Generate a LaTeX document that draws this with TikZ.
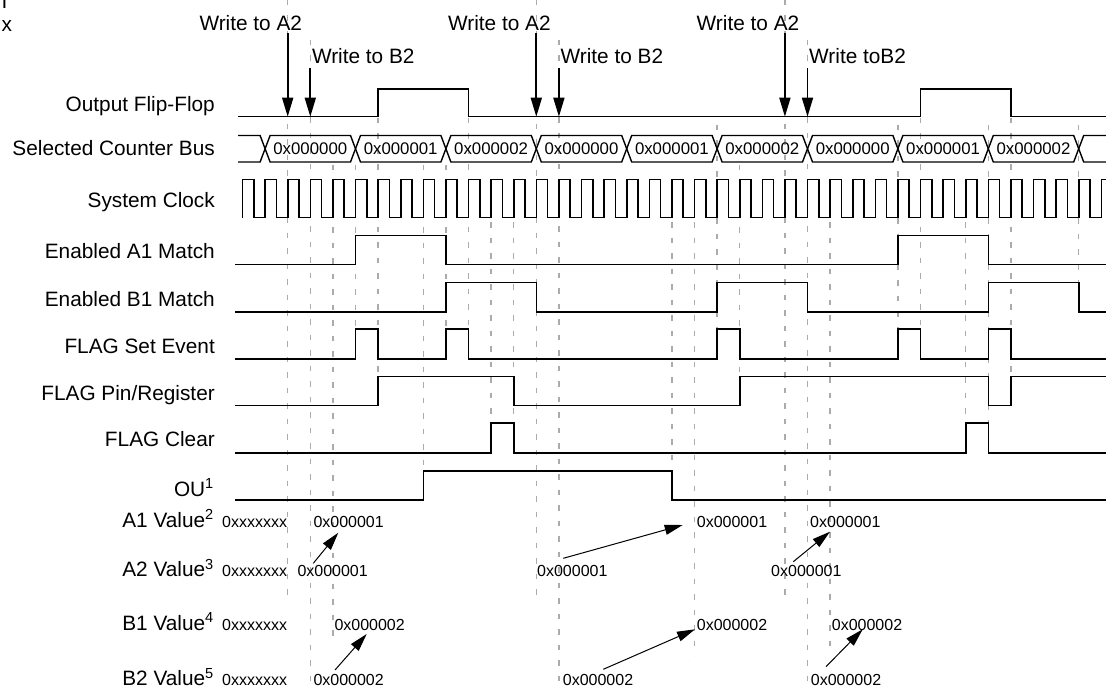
\documentclass[tikz,border=0pt]{standalone}
\usepackage{fontspec}
\setmainfont{Liberation Sans}
\usetikzlibrary{arrows.meta}
\newcommand\kx[1]{242.5+22.6*(#1)}
\begin{document}
\begin{tikzpicture}[x=1pt,y=-1pt,
  sig/.style={line width=1.6pt, line join=miter},
  dline/.style={line width=1.3pt, color=black!33, dash pattern=on 5.5pt off 10pt},
  lbl/.style={anchor=base east, inner sep=0pt, font=\fontsize{20.8}{24}\selectfont},
  wtxt/.style={inner sep=0pt, font=\fontsize{20.8}{24}\selectfont},
  busl/.style={anchor=base, inner sep=0pt, font=\fontsize{16.8}{19}\selectfont},
  val/.style={anchor=base west, inner sep=0pt, font=\fontsize{16}{19}\selectfont},
  warrow/.style={line width=1.7pt, -{Triangle[length=19pt,width=11pt]}},
  varrow/.style={line width=1pt, -{Triangle[length=18pt,width=10pt]}},
]
\useasboundingbox (0,0) rectangle (1106,690);

% dashed guide lines
\foreach \q/\a/\b in {2/0/603, 3/40/690, 4/165/645, 5/165/358, 6/118/406,
  8/165/471, 9/165/358, 10/118/358, 11/222/423, 12/222/453, 13/0/603,
  14/40/690, 19/222/471, 20/222/656, 21/125/358, 22/165/406, 24/0/603,
  25/40/690, 26/222/653, 29/125/358, 30/118/358, 32/222/423, 33/125/453,
  34/118/406, 37/125/312}
  \draw[dline] ({\kx{\q}},\a) -- ({\kx{\q}},\b);

% corner text
\node[anchor=base west, inner sep=0pt, font=\fontsize{20.8}{24}\selectfont] (ci) at (1.5,8.3) {I};
\node[anchor=base west, inner sep=0pt, font=\fontsize{20.8}{24}\selectfont] (cx) at (1.5,31.7) {x};

% labels
\node[lbl] (lff)  at (215,111.7) {Output Flip-Flop};
\node[lbl] (lbus) at (215,155.5) {Selected Counter Bus};
\node[lbl] (lclk) at (215,207.5) {System Clock};
\node[lbl] (la1m) at (215,258.8) {Enabled A1 Match};
\node[lbl] (lb1m) at (215,306.4) {Enabled B1 Match};
\node[lbl] (lfs)  at (215,353.3) {FLAG Set Event};
\node[lbl] (lfp)  at (215,400) {FLAG Pin/Register};
\node[lbl] (lfc)  at (215,446.8) {FLAG Clear};
\node[lbl] (lou)  at (214,496) {OU\textsuperscript{1}};
\node[lbl] (la1v) at (214,527.3) {A1 Value\textsuperscript{2}};
\node[lbl] (la2v) at (214,576.7) {A2 Value\textsuperscript{3}};
\node[lbl] (lb1v) at (214,630.5) {B1 Value\textsuperscript{4}};
\node[lbl] (lb2v) at (214,685.7) {B2 Value\textsuperscript{5}};

% write events
\node[wtxt, anchor=base east] (wa1) at ({\kx{2}+14.5},30.5) {Write to A2};
\node[wtxt, anchor=base west] (wb1) at ({\kx{3}+1.5},63.5) {Write to B2};
\node[wtxt, anchor=base east] (wa2) at ({\kx{13}+14.5},30.5) {Write to A2};
\node[wtxt, anchor=base west] (wb2) at ({\kx{14}+1.5},63.5) {Write to B2};
\node[wtxt, anchor=base east] (wa3) at ({\kx{24}+14.5},30.5) {Write to A2};
\node[wtxt, anchor=base west] (wb3) at ({\kx{25}+1.5},63.5) {Write toB2};
\foreach \n/\q/\t in {wa1/2/33.3, wb1/3/68.3, wa2/13/33.3, wb2/14/68.3, wa3/24/33.3, wb3/25/68.3}{
  \coordinate (\n s) at ({\kx{\q}},\t);
  \coordinate (\n e) at ({\kx{\q}},116.7);
  \draw[warrow] (\n s) -- (\n e);
}

% Output Flip-Flop
\draw[sig] (238,116.7) -| ({\kx{6}},89) -| ({\kx{10}},116.7) -| ({\kx{30}},89) -| ({\kx{34}},116.7) -- (1106,116.7);

% Selected counter bus
\def\bt{135.5}\def\bb{162}\def\bm{148.75}
\draw[sig, line width=1.4pt] (238,\bt) -- ({\kx{1}-5},\bt) -- ({\kx{1}},\bm) -- ({\kx{1}-5},\bb) -- (238,\bb);
\foreach \s/\e in {1/5,5/9,9/13,13/17,17/21,21/25,25/29,29/33,33/37}
  \draw[sig, line width=1.4pt] ({\kx{\s}},\bm) -- ({\kx{\s}+5},\bt) -- ({\kx{\e}-5},\bt) -- ({\kx{\e}},\bm) -- ({\kx{\e}-5},\bb) -- ({\kx{\s}+5},\bb) -- cycle;
\draw[sig, line width=1.4pt] (1106,\bt) -- ({\kx{37}+5},\bt) -- ({\kx{37}},\bm) -- ({\kx{37}+5},\bb) -- (1106,\bb);
\foreach \n/\s/\t in {bus1/1/0x000000, bus2/5/0x000001, bus3/9/0x000002, bus4/13/0x000000,
  bus5/17/0x000001, bus6/21/0x000002, bus7/25/0x000000, bus8/29/0x000001, bus9/33/0x000002}
  \node[busl] (\n) at ({\kx{\s+2}},154.8) {\t};

% System clock
\draw[sig] ({\kx{0}},217.5) \foreach \i in {0,...,38}{ -- ({\kx{\i}},217.5) -- ({\kx{\i}},179.5) -- ({\kx{\i+0.5}},179.5) -- ({\kx{\i+0.5}},217.5)};

% Enabled A1 Match
\draw[sig] (235,264.3) -| ({\kx{5}},235.5) -| ({\kx{9}},264.3) -| ({\kx{29}},235.5) -| ({\kx{33}},264.3) -- (1106,264.3);
% Enabled B1 Match
\draw[sig] (235,311.9) -| ({\kx{9}},282.5) -| ({\kx{13}},311.9) -| ({\kx{21}},282.5) -| ({\kx{25}},311.9) -| ({\kx{33}},282.5) -| ({\kx{37}},311.9) -- (1106,311.9);
% FLAG Set Event
\draw[sig] (235,358.8) -| ({\kx{5}},329) -| ({\kx{6}},358.8) -| ({\kx{9}},329) -| ({\kx{10}},358.8) -| ({\kx{21}},329) -| ({\kx{22}},358.8) -| ({\kx{29}},329) -| ({\kx{30}},358.8) -| ({\kx{33}},329) -| ({\kx{34}},358.8) -- (1106,358.8);
% FLAG Pin/Register
\draw[sig] (235,405.5) -| ({\kx{6}},376.5) -| ({\kx{12}},405.5) -| ({\kx{22}},376.5) -| ({\kx{33}},405.5) -| ({\kx{34}},376.5) -- (1106,376.5);
% FLAG Clear
\draw[sig] (235,452.8) -| ({\kx{11}},423) -| ({\kx{12}},452.8) -| ({\kx{32}},423) -| ({\kx{33}},452.8) -- (1106,452.8);
% OU
\draw[sig] (235,500) -| ({\kx{8}},471.2) -| ({\kx{19}},500) -- (1106,500);

% values
\node[val] (a1v0) at (222,527.3) {0xxxxxxx};
\node[val] (a2v0) at (222,576.7) {0xxxxxxx};
\node[val] (b1v0) at (222,630.5) {0xxxxxxx};
\node[val] (b2v0) at (222,685.7) {0xxxxxxx};
\node[val] (a1v1) at (313.3,527.3) {0x000001};
\node[val] (a1v2) at (696.7,527.3) {0x000001};
\node[val] (a1v3) at (810,527.3) {0x000001};
\node[val] (a2v1) at (297.3,576.7) {0x000001};
\node[val] (a2v2) at (537,576.7) {0x000001};
\node[val] (a2v3) at (771,576.7) {0x000001};
\node[val] (b1v1) at (334.3,630.5) {0x000002};
\node[val] (b1v2) at (696.7,630.5) {0x000002};
\node[val] (b1v3) at (831.7,630.5) {0x000002};
\node[val] (b2v1) at (313.3,685.7) {0x000002};
\node[val] (b2v2) at (562.7,685.7) {0x000002};
\node[val] (b2v3) at (810.7,685.7) {0x000002};

\draw[varrow] ([shift={(16,-13.4)}]a2v1.base west) -- ([shift={(25,5.4)}]a1v1.base west);
\draw[varrow] ([shift={(21.7,-15.7)}]b2v1.base west) -- ([shift={(32.4,3.5)}]b1v1.base west);
\draw[varrow] ([shift={(26.3,-18.4)}]a2v2.base west) -- ([shift={(-14,-2.3)}]a1v2.base west);
\draw[varrow] ([shift={(40.6,-16.4)}]b2v2.base west) -- ([shift={(-1.7,-1.2)}]b1v2.base west);
\draw[varrow] ([shift={(22.3,-15)}]a2v3.base west) -- ([shift={(20,4.4)}]a1v3.base west);
\draw[varrow] ([shift={(15.3,-19)}]b2v3.base west) -- ([shift={(31,-1.2)}]b1v3.base west);
\end{tikzpicture}
\end{document}
